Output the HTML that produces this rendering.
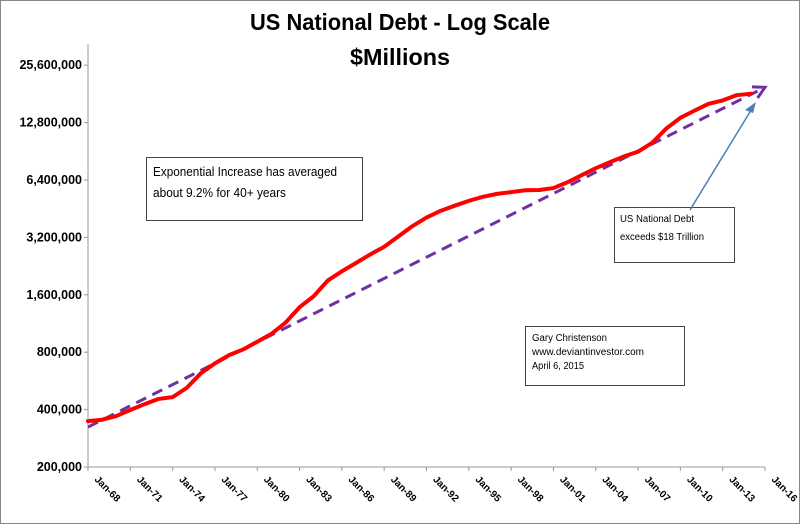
<!DOCTYPE html>
<html><head><meta charset="utf-8"><style>
html,body{margin:0;padding:0;background:#fff}
svg{display:block}
text{font-family:"Liberation Sans",sans-serif}
</style></head><body>
<svg id="chart" width="800" height="524" viewBox="0 0 800 524" xmlns="http://www.w3.org/2000/svg">
<rect x="0.5" y="0.5" width="799" height="523" fill="#fff" stroke="#888" stroke-width="1"/>
<text x="400" y="30" text-anchor="middle" font-size="23" font-weight="bold" textLength="300" lengthAdjust="spacingAndGlyphs">US National Debt - Log Scale</text>
<text x="400" y="65" text-anchor="middle" font-size="23" font-weight="bold" textLength="100" lengthAdjust="spacingAndGlyphs">$Millions</text>
<g id="axes"></g>
<g id="series"></g>
<g>
<rect x="146.5" y="157.5" width="216" height="63" fill="#fff" stroke="#444"/>
<text x="153" y="176" font-size="12.5" textLength="184" lengthAdjust="spacingAndGlyphs">Exponential  Increase has averaged</text>
<text x="153" y="197" font-size="12.5" textLength="133" lengthAdjust="spacingAndGlyphs">about 9.2% for 40+ years</text>
</g>
<g>
<rect x="614.5" y="207.5" width="120" height="55" fill="#fff" stroke="#444"/>
<text x="620" y="222" font-size="10" textLength="74" lengthAdjust="spacingAndGlyphs">US National Debt</text>
<text x="620" y="240" font-size="10" textLength="84" lengthAdjust="spacingAndGlyphs">exceeds $18 Trillion</text>
</g>
<g>
<rect x="525.5" y="326.5" width="159" height="59" fill="#fff" stroke="#444"/>
<text x="532" y="341" font-size="10" textLength="75" lengthAdjust="spacingAndGlyphs">Gary Christenson</text>
<text x="532" y="355" font-size="10" textLength="112" lengthAdjust="spacingAndGlyphs">www.deviantinvestor.com</text>
<text x="532" y="369" font-size="10" textLength="52" lengthAdjust="spacingAndGlyphs">April 6, 2015</text>
</g>
<line x1="690" y1="210" x2="753" y2="107" stroke="#4a7ebb" stroke-width="1.5"/>
<polygon points="756,102 745,110 753,113" fill="#4a7ebb"/>
</svg>
<script>
const years=[1968,1969,1970,1971,1972,1973,1974,1975,1976,1977,1978,1979,1980,1981,1982,1983,1984,1985,1986,1987,1988,1989,1990,1991,1992,1993,1994,1995,1996,1997,1998,1999,2000,2001,2002,2003,2004,2005,2006,2007,2008,2009,2010,2011,2012,2013,2014,2015];
const debt=[348000,354000,370000,398000,427000,455000,465000,520000,620000,699000,772000,827000,908000,998000,1142000,1377000,1572000,1900000,2125000,2350000,2602000,2857000,3233000,3665000,4065000,4411000,4693000,4974000,5225000,5413000,5526000,5656000,5674000,5807000,6228000,6783000,7379000,7933000,8507000,9008000,10025000,11910000,13562000,14790000,16066000,16738000,17824000,18150000];
const trendYears=[1968,2016];
const trendValues=[324000,19600000];
const yTicks=[200000,400000,800000,1600000,3200000,6400000,12800000,25600000];
const yTickLabels=["200,000","400,000","800,000","1,600,000","3,200,000","6,400,000","12,800,000","25,600,000"];
const xTickYears=[1968,1971,1974,1977,1980,1983,1986,1989,1992,1995,1998,2001,2004,2007,2010,2013,2016];
const xTickLabels=["Jan-68","Jan-71","Jan-74","Jan-77","Jan-80","Jan-83","Jan-86","Jan-89","Jan-92","Jan-95","Jan-98","Jan-01","Jan-04","Jan-07","Jan-10","Jan-13","Jan-16"];

const NS="http://www.w3.org/2000/svg";
const X0=88,X1=765,Y0=467,PERDBL=57.4;
function xs(y){return X0+(y-1968)*(X1-X0)/48;}
function ys(v){return Y0-PERDBL*Math.log2(v/200000);}
function mk(tag,attrs,parent){const e=document.createElementNS(NS,tag);for(const k in attrs)e.setAttribute(k,attrs[k]);parent.appendChild(e);return e;}
const axes=document.getElementById('axes'),series=document.getElementById('series');

let yl=mk('line',{x1:X0,y1:44,x2:X0,y2:Y0,stroke:'#999'},axes);


let xl=mk('line',{x1:X0,y1:Y0,x2:X1,y2:Y0,stroke:'#999'},axes);



yTicks.forEach((v,i)=>{
  const y=ys(v);
  mk('line',{x1:X0-4,y1:y,x2:X0,y2:y,stroke:'#999'},axes);
  const t=mk('text',{x:X0-6,y:y+4,'text-anchor':'end','font-size':'12.5','font-weight':'bold'},axes);
  t.textContent=yTickLabels[i];
  
  
});
xTickYears.forEach((yr,i)=>{
  const x=xs(yr);
  mk('line',{x1:x,y1:Y0,x2:x,y2:Y0+4,stroke:'#999'},axes);
  const t=mk('text',{x:x+6,y:Y0+13,'font-size':'10','font-weight':'bold',transform:`rotate(45 ${x+6} ${Y0+13})`},axes);
  t.textContent=xTickLabels[i];
  
  
});

const tx1=xs(trendYears[0]),ty1=ys(trendValues[0]),tx2=xs(trendYears[1]),ty2=ys(trendValues[1]);
const ang=Math.atan2(ty2-ty1,tx2-tx1);
const tl=mk('line',{x1:tx1,y1:ty1,x2:tx2-8*Math.cos(ang),y2:ty2-8*Math.sin(ang),stroke:'#7030a0','stroke-width':3,'stroke-dasharray':'11,7'},series);


const ah=mk('polyline',{points:`${tx2-13*Math.cos(ang-0.5)},${ty2-13*Math.sin(ang-0.5)} ${tx2},${ty2} ${tx2-13*Math.cos(ang+0.5)},${ty2-13*Math.sin(ang+0.5)}`,fill:'none',stroke:'#7030a0','stroke-width':3},series);



const pts=years.map((yr,i)=>xs(yr)+','+ys(debt[i])).join(' ');
const dl=mk('polyline',{points:pts,fill:'none',stroke:'#ff0000','stroke-width':4,'stroke-linejoin':'round','stroke-linecap':'round'},series);


</script>
</body></html>
